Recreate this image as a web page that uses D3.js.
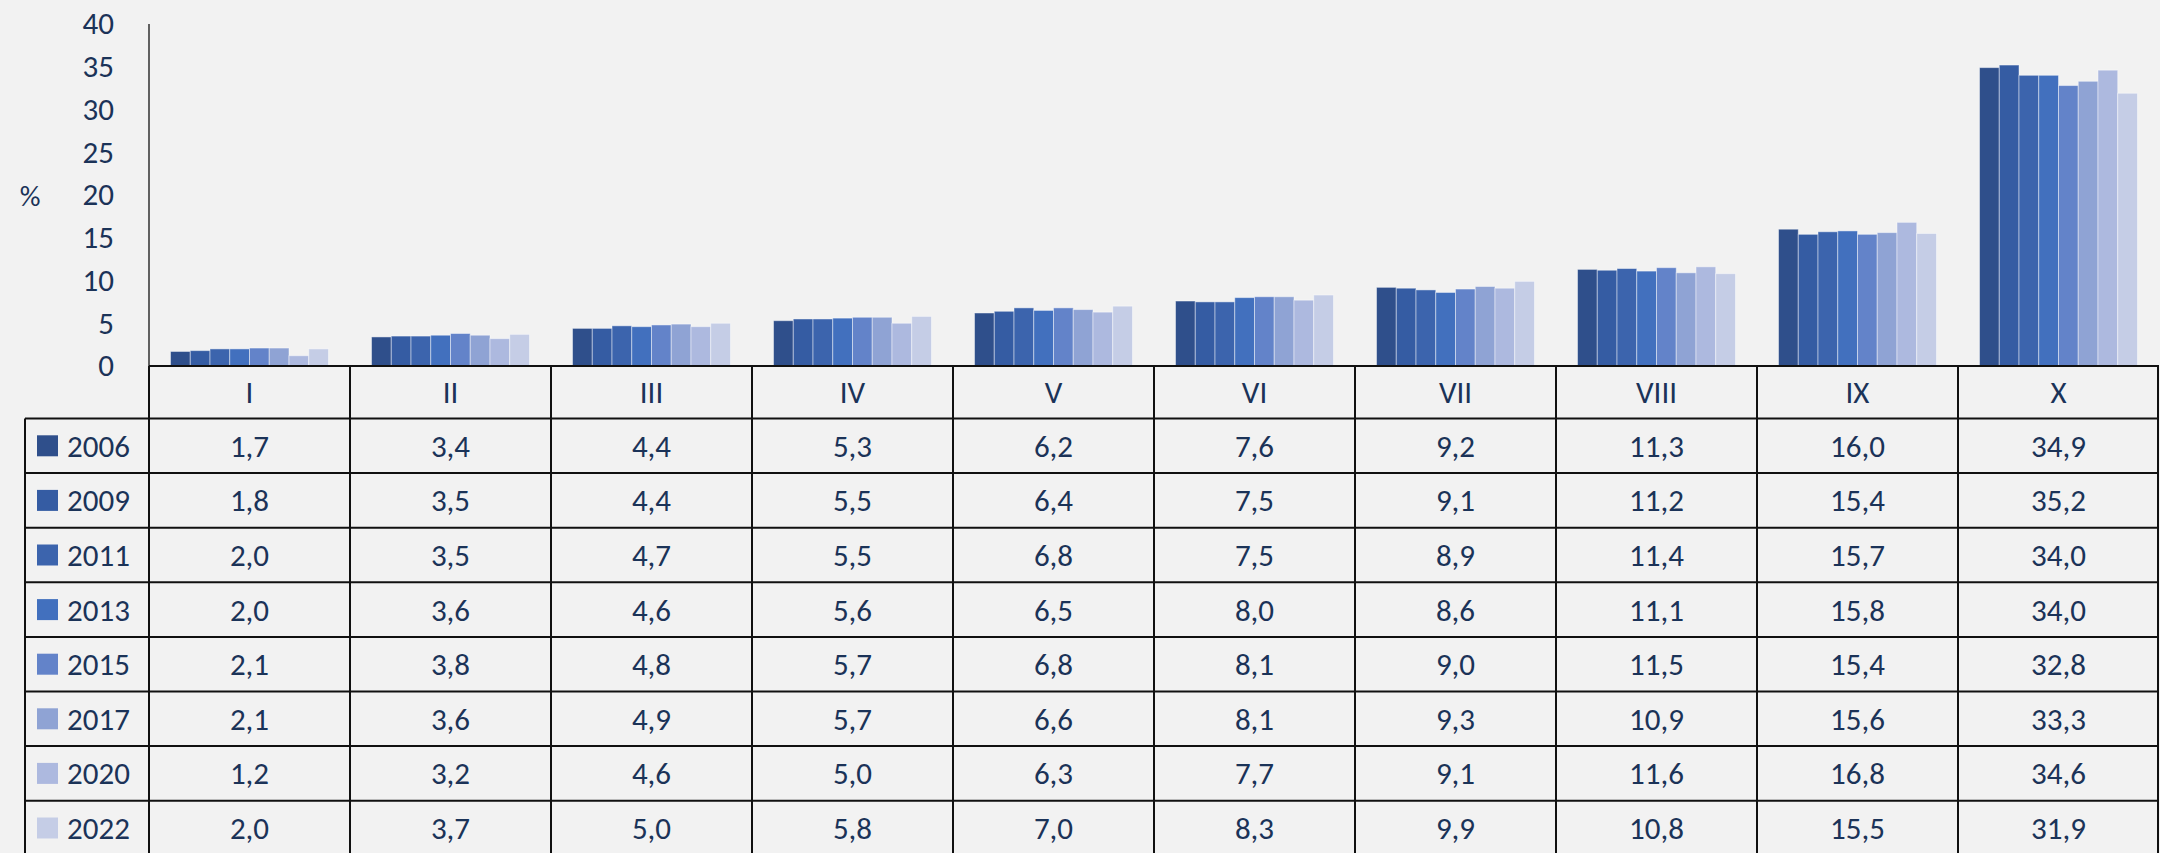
<!DOCTYPE html>
<html>
<head>
<meta charset="utf-8">
<script src="https://cdn.jsdelivr.net/npm/d3@7"></script>
<style>
  html, body { margin: 0; padding: 0; background: #f2f2f2; }
  svg { display: block; font-family: Carlito, Calibri, Lato, sans-serif; }
  text { fill: #1b3358; }
</style>
</head>
<body>
<div id="chart"></div>
<script>
const categories = ["I", "II", "III", "IV", "V", "VI", "VII", "VIII", "IX", "X"];
const years = ["2006", "2009", "2011", "2013", "2015", "2017", "2020", "2022"];
const colors = ["#2f4f8b", "#355ca3", "#3c64ad", "#4270be", "#6383c9", "#8fa3d4", "#adb9df", "#c5cde6"];

const v2006 = [1.7, 3.4, 4.4, 5.3, 6.2, 7.6, 9.2, 11.3, 16.0, 34.9];
const v2009 = [1.8, 3.5, 4.4, 5.5, 6.4, 7.5, 9.1, 11.2, 15.4, 35.2];
const v2011 = [2.0, 3.5, 4.7, 5.5, 6.8, 7.5, 8.9, 11.4, 15.7, 34.0];
const v2013 = [2.0, 3.6, 4.6, 5.6, 6.5, 8.0, 8.6, 11.1, 15.8, 34.0];
const v2015 = [2.1, 3.8, 4.8, 5.7, 6.8, 8.1, 9.0, 11.5, 15.4, 32.8];
const v2017 = [2.1, 3.6, 4.9, 5.7, 6.6, 8.1, 9.3, 10.9, 15.6, 33.3];
const v2020 = [1.2, 3.2, 4.6, 5.0, 6.3, 7.7, 9.1, 11.6, 16.8, 34.6];
const v2022 = [2.0, 3.7, 5.0, 5.8, 7.0, 8.3, 9.9, 10.8, 15.5, 31.9];
const series = [v2006, v2009, v2011, v2013, v2015, v2017, v2020, v2022];
const yTicks = [0, 5, 10, 15, 20, 25, 30, 35, 40];

const W = 2160, H = 853;
const left = 149, right = 2159, zeroY = 366, topY = 24;
const catRowBottom = 418.5, rowH = 54.6, tableLeft = 25;
const fontSize = 31;

const svg = d3.select("#chart").append("svg").attr("width", W).attr("height", H);
svg.append("rect").attr("width", W).attr("height", H).attr("fill", "#f2f2f2");

const x0 = d3.scaleBand().domain(categories).range([left, right]).padding(0);
const x1 = d3.scaleBand().domain(years).range([0, x0.bandwidth()]).paddingInner(0).paddingOuter(1.09);
const y = d3.scaleLinear().domain([0, 40]).range([zeroY, topY]);
const fmt = (v) => d3.format(".1f")(v).replace(".", ",");

// Bars
const groups = svg.append("g")
  .selectAll("g")
  .data(categories)
  .join("g")
  .attr("transform", (d) => `translate(${x0(d)},0)`);

groups.selectAll("rect")
  .data((c, i) => years.map((yr, j) => ({ yr, j, v: series[j][i] })))
  .join("rect")
  .attr("x", (d) => x1(d.yr))
  .attr("y", (d) => y(d.v))
  .attr("width", x1.bandwidth())
  .attr("height", (d) => zeroY - y(d.v))
  .attr("fill", (d) => colors[d.j])
  .attr("stroke", "rgba(255,255,255,0.45)")
  .attr("stroke-width", 1);

// Y axis
const yAxis = svg.append("g")
  .attr("transform", `translate(${left},0)`)
  .call(d3.axisLeft(y).tickValues(yTicks).tickSize(0).tickPadding(35));
yAxis.select(".domain").remove();
yAxis.selectAll("text")
  .attr("font-size", fontSize)
  .attr("font-family", "Carlito, Calibri, Lato, sans-serif")
  .style("fill", "#1b3358");

svg.append("text")
  .attr("x", 30).attr("y", 196)
  .attr("text-anchor", "middle").attr("dominant-baseline", "central")
  .attr("font-size", fontSize - 2)
  .text("%");

// Lines
const lines = svg.append("g").attr("stroke", "#111").attr("fill", "none");
lines.append("line").attr("x1", left).attr("x2", left).attr("y1", topY).attr("y2", zeroY).attr("stroke-width", 1.3);
lines.append("line").attr("x1", left).attr("x2", left).attr("y1", zeroY).attr("y2", H).attr("stroke-width", 2);
lines.append("line").attr("x1", left).attr("x2", right).attr("y1", zeroY).attr("y2", zeroY).attr("stroke-width", 2);
lines.append("line").attr("x1", right - 1).attr("x2", right - 1).attr("y1", zeroY).attr("y2", H).attr("stroke-width", 2);
lines.append("line").attr("x1", tableLeft).attr("x2", tableLeft).attr("y1", catRowBottom).attr("y2", H).attr("stroke-width", 2);
categories.slice(1).forEach((c) => {
  lines.append("line").attr("x1", x0(c)).attr("x2", x0(c)).attr("y1", zeroY).attr("y2", H).attr("stroke-width", 2);
});
years.forEach((yr, j) => {
  const yy = catRowBottom + j * rowH;
  lines.append("line").attr("x1", tableLeft).attr("x2", right).attr("y1", yy).attr("y2", yy).attr("stroke-width", 2);
});

// Category labels
svg.append("g").selectAll("text")
  .data(categories)
  .join("text")
  .attr("x", (d) => x0(d) + x0.bandwidth() / 2)
  .attr("y", (zeroY + catRowBottom) / 2)
  .attr("text-anchor", "middle").attr("dominant-baseline", "central")
  .attr("font-size", fontSize)
  .text((d) => d);

// Table rows
years.forEach((yr, j) => {
  const cy = catRowBottom + j * rowH + rowH / 2;
  svg.append("rect")
    .attr("x", 37).attr("y", cy - 10.5)
    .attr("width", 21).attr("height", 21)
    .attr("fill", colors[j]);
  svg.append("text")
    .attr("x", 67).attr("y", cy)
    .attr("dominant-baseline", "central")
    .attr("font-size", fontSize)
    .text(yr);
  svg.append("g").selectAll("text")
    .data(series[j])
    .join("text")
    .attr("x", (d, i) => x0(categories[i]) + x0.bandwidth() / 2)
    .attr("y", cy)
    .attr("text-anchor", "middle").attr("dominant-baseline", "central")
    .attr("font-size", fontSize)
    .text((d) => fmt(d));
});
</script>
</body>
</html>
